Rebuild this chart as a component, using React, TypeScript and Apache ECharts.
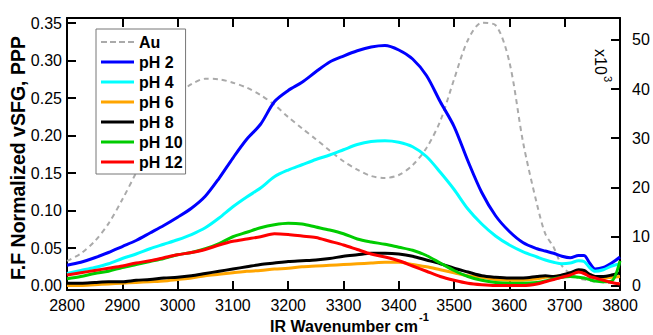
import React, { useEffect, useRef } from "react";
import * as echarts from "echarts";

const wavenumbers = [
  2800, 2825, 2850, 2875, 2900, 2925, 2950, 2975, 3000, 3025, 3050, 3075, 3100, 3125, 3150, 3175,
  3200, 3225, 3250, 3275, 3300, 3325, 3350, 3375, 3400, 3425, 3450, 3475, 3500, 3525, 3550, 3575,
  3600, 3625, 3650, 3665, 3680, 3695, 3710, 3725, 3735, 3745, 3755, 3770, 3785, 3800,
];

// Au reference (right axis, x10^3)
const au = [
  5.0, 6.5, 9.0, 12.6, 17.5, 23.0, 29.0, 34.5, 38.8, 41.0, 42.1, 42.0, 41.3, 40.3, 38.8, 36.8,
  34.3, 32.0, 29.8, 27.5, 25.3, 23.6, 22.3, 21.9, 22.5, 24.5, 28.0, 33.5, 42.0, 50.0, 53.5, 53.0,
  45.5, 29.0, 16.5, 10.5, 7.8, 4.0, 2.4, 1.5, 1.2, 1.0, 0.8, 0.6, 0.5, 0.5,
];

const ph2 = [
  0.027, 0.031, 0.037, 0.044, 0.052, 0.060, 0.070, 0.080, 0.091, 0.103, 0.119, 0.143, 0.170, 0.195, 0.215, 0.245,
  0.260, 0.271, 0.285, 0.298, 0.306, 0.313, 0.318, 0.320, 0.314, 0.302, 0.280, 0.245, 0.212, 0.166, 0.124, 0.093,
  0.072, 0.057, 0.049, 0.046, 0.043, 0.039, 0.037, 0.040, 0.040, 0.030, 0.022, 0.024, 0.030, 0.038,
];

const ph4 = [
  0.016, 0.020, 0.024, 0.029, 0.036, 0.042, 0.049, 0.055, 0.061, 0.068, 0.077, 0.090, 0.105, 0.118, 0.130, 0.145,
  0.154, 0.161, 0.168, 0.174, 0.181, 0.188, 0.192, 0.193, 0.191, 0.185, 0.172, 0.151, 0.128, 0.102, 0.082, 0.066,
  0.054, 0.045, 0.038, 0.034, 0.031, 0.029, 0.030, 0.033, 0.032, 0.024, 0.019, 0.021, 0.026, 0.029,
];

const ph6 = [
  0.000, 0.000, 0.001, 0.002, 0.003, 0.004, 0.005, 0.006, 0.008, 0.010, 0.013, 0.015, 0.017, 0.019, 0.020, 0.022,
  0.023, 0.025, 0.026, 0.027, 0.028, 0.029, 0.030, 0.031, 0.031, 0.028, 0.025, 0.021, 0.017, 0.013, 0.011, 0.008,
  0.007, 0.007, 0.009, 0.011, 0.012, 0.013, 0.015, 0.018, 0.017, 0.014, 0.012, 0.010, 0.011, 0.012,
];

const ph8 = [
  0.003, 0.003, 0.004, 0.005, 0.005, 0.007, 0.008, 0.010, 0.011, 0.013, 0.016, 0.019, 0.022, 0.025, 0.028, 0.030,
  0.032, 0.033, 0.034, 0.036, 0.039, 0.041, 0.043, 0.043, 0.042, 0.039, 0.034, 0.029, 0.023, 0.018, 0.013, 0.011,
  0.010, 0.010, 0.012, 0.013, 0.012, 0.014, 0.017, 0.021, 0.020, 0.015, 0.012, 0.012, 0.014, 0.017,
];

const ph10 = [
  0.009, 0.012, 0.016, 0.019, 0.024, 0.028, 0.032, 0.036, 0.041, 0.044, 0.049, 0.056, 0.065, 0.071, 0.077, 0.081,
  0.083, 0.082, 0.078, 0.074, 0.069, 0.062, 0.058, 0.055, 0.051, 0.047, 0.040, 0.030, 0.020, 0.012, 0.007, 0.004,
  0.003, 0.003, 0.004, 0.006, 0.009, 0.011, 0.012, 0.011, 0.010, 0.008, 0.006, 0.005, 0.006, 0.033,
];

const ph12 = [
  0.014, 0.017, 0.020, 0.023, 0.026, 0.030, 0.033, 0.037, 0.041, 0.044, 0.048, 0.054, 0.059, 0.062, 0.065, 0.069,
  0.068, 0.066, 0.064, 0.059, 0.054, 0.048, 0.042, 0.038, 0.033, 0.026, 0.019, 0.012, 0.007, 0.003, 0.001, 0.000,
  0.000, 0.000, 0.002, 0.005, 0.008, 0.011, 0.014, 0.018, 0.016, 0.012, 0.010, 0.007, 0.004, 0.002,
];

const leftTicks = [0, 0.05, 0.1, 0.15, 0.2, 0.25, 0.3, 0.35];
const rightTicks = [0, 10, 20, 30, 40, 50];
const seriesNames = ["Au", "pH 2", "pH 4", "pH 6", "pH 8", "pH 10", "pH 12"];
const seriesColors = ["#AAAAAA", "#0000FF", "#00FFFF", "#FFA500", "#000000", "#00CC00", "#FF0000"];

const FONT = "'Liberation Sans', Arial, sans-serif";
const DASH_ICON = "path://M0 0h6v2h-6zM9 0h6v2h-6zM18 0h6v2h-6zM27 0h6v2h-6z";

export default function App() {
  const ref = useRef<HTMLDivElement>(null);

  useEffect(() => {
    document.body.style.margin = "0";
    const chart = echarts.init(ref.current!, null, { renderer: "svg" });
    const pair = (vals: number[]) => wavenumbers.map((w, i) => [w, vals[i]]);
    const allVals = [au, ph2, ph4, ph6, ph8, ph10, ph12];

    const axisLine = { show: true, onZero: false, lineStyle: { color: "#000", width: 2 } };
    const tick = { show: true, inside: true, length: 9, lineStyle: { color: "#000", width: 2 } };
    const label = { color: "#000", fontSize: 16, fontFamily: FONT };

    chart.setOption({
      animation: false,
      backgroundColor: "#fff",
      grid: { left: 67, right: 33, top: 18, bottom: 45, containLabel: false },
      xAxis: [
        {
          type: "value", position: "bottom", min: 2800, max: 3800, interval: 100,
          axisLine, axisTick: tick,
          axisLabel: { ...label, margin: 7, formatter: (v: number) => String(v) },
          splitLine: { show: false },
        },
        {
          type: "value", position: "top", min: 2800, max: 3800, interval: 100,
          axisLine, axisTick: tick, axisLabel: { show: false }, splitLine: { show: false },
        },
      ],
      yAxis: [
        {
          type: "value", position: "left", min: -0.006, max: 0.3567,
          axisLine, axisTick: { ...tick, customValues: leftTicks },
          axisLabel: { ...label, margin: 5, customValues: leftTicks, formatter: (v: number) => v.toFixed(2) },
          splitLine: { show: false },
        },
        {
          type: "value", position: "right", min: -0.92, max: 54.48,
          axisLine, axisTick: { ...tick, customValues: rightTicks },
          axisLabel: { ...label, margin: 12, customValues: rightTicks, formatter: (v: number) => String(v) },
          splitLine: { show: false },
        },
      ],
      legend: {
        data: seriesNames.map((name, i) => ({
          name,
          icon: i === 0 ? DASH_ICON : "rect",
          itemStyle: { color: seriesColors[i] },
        })),
        orient: "vertical",
        left: 96,
        top: 29,
        itemWidth: 33,
        itemHeight: 3,
        itemGap: 4,
        padding: [5, 3, 4, 5],
        backgroundColor: "#fff",
        borderColor: "#777",
        borderWidth: 1,
        borderRadius: 0,
        textStyle: { color: "#000", fontSize: 16, fontWeight: "bold", fontFamily: FONT, lineHeight: 16 },
      },
      series: seriesNames.map((name, i) => ({
        name,
        type: "line",
        xAxisIndex: 0,
        yAxisIndex: i === 0 ? 1 : 0,
        data: pair(allVals[i]),
        symbol: "none",
        smooth: 0.3,
        z: i === 0 ? 1 : 2,
        lineStyle: i === 0
          ? { color: seriesColors[i], width: 2, type: [5, 4] }
          : { color: seriesColors[i], width: 3 },
        itemStyle: { color: seriesColors[i] },
      })),
      graphic: [
        {
          type: "text", x: 18, y: 158, rotation: Math.PI / 2,
          style: { text: "F.F Normalized vSFG, PPP", align: "center", verticalAlign: "middle", fill: "#000", fontSize: 19.5, fontWeight: "bold", fontFamily: FONT },
        },
        {
          type: "text", x: 344, y: 326,
          style: { text: "IR Wavenumber cm", align: "center", verticalAlign: "middle", fill: "#000", fontSize: 16, fontWeight: "bold", fontFamily: FONT },
        },
        {
          type: "text", x: 419, y: 317,
          style: { text: "-1", align: "left", verticalAlign: "middle", fill: "#000", fontSize: 11, fontWeight: "bold", fontFamily: FONT },
        },
        {
          type: "text", x: 600, y: 62, rotation: -Math.PI / 2,
          style: { text: "x10", align: "center", verticalAlign: "middle", fill: "#000", fontSize: 16, fontFamily: FONT },
        },
        {
          type: "text", x: 608, y: 76, rotation: -Math.PI / 2,
          style: { text: "3", align: "left", verticalAlign: "middle", fill: "#000", fontSize: 11, fontFamily: FONT },
        },
      ],
    });
    return () => chart.dispose();
  }, []);

  return <div ref={ref} style={{ width: 653, height: 335 }} />;
}
